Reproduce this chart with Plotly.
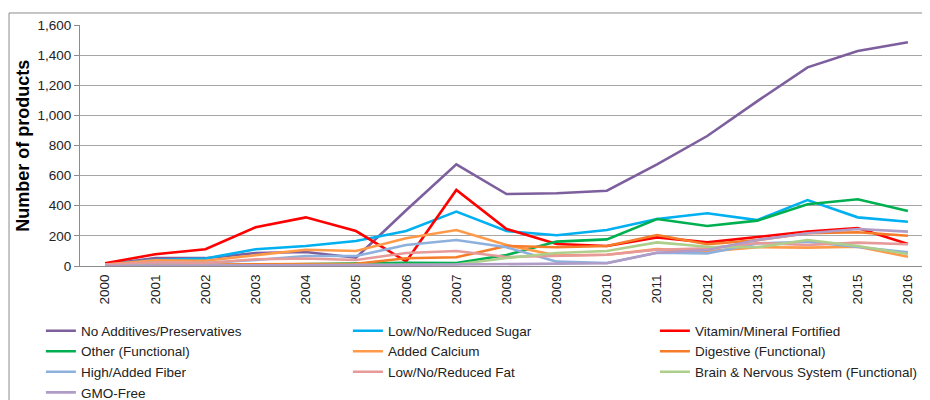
import plotly.graph_objects as go

years = [str(y) for y in range(2000, 2017)]

no_additives = [10, 52, 52, 86, 93, 55, 370, 675, 478, 483, 500, 675, 863, 1095, 1319, 1428, 1485]
low_sugar    = [10, 40, 50, 111, 133, 166, 232, 361, 232, 204, 239, 312, 350, 305, 438, 323, 294]
vitamin      = [18, 78, 111, 257, 323, 232, 30, 505, 246, 146, 133, 190, 157, 195, 228, 252, 146]
other_func   = [0, 5, 5, 8, 11, 15, 22, 20, 73, 162, 177, 312, 266, 301, 410, 443, 365]
added_calc   = [10, 38, 35, 73, 108, 100, 184, 239, 139, 70, 75, 112, 97, 125, 122, 128, 62]
digestive    = [5, 8, 8, 10, 12, 15, 51, 58, 133, 124, 133, 206, 144, 172, 217, 224, 201]
fiber        = [5, 20, 20, 40, 66, 66, 139, 173, 124, 29, 20, 88, 84, 150, 161, 128, 91]
low_fat      = [10, 25, 20, 45, 50, 40, 86, 100, 60, 66, 75, 108, 117, 153, 139, 155, 144]
brain        = [0, 2, 2, 3, 4, 5, 8, 10, 53, 86, 100, 157, 128, 124, 173, 133, 80]
gmo_free     = [0, 3, 3, 4, 5, 5, 8, 10, 12, 18, 18, 88, 106, 173, 217, 246, 228]

series = [
    ("No Additives/Preservatives", no_additives, "#7D5F9E"),
    ("Low/No/Reduced Sugar", low_sugar, "#00B0F0"),
    ("Vitamin/Mineral Fortified", vitamin, "#FF0000"),
    ("Other (Functional)", other_func, "#00B050"),
    ("Added Calcium", added_calc, "#FF9A48"),
    ("Digestive (Functional)", digestive, "#F57C28"),
    ("High/Added Fiber", fiber, "#8EB0DC"),
    ("Low/No/Reduced Fat", low_fat, "#E69A9A"),
    ("Brain & Nervous System (Functional)", brain, "#AECF8C"),
    ("GMO-Free", gmo_free, "#B09CC6"),
]

fig = go.Figure()
for name, vals, col in series:
    fig.add_trace(go.Scatter(x=years, y=vals, name=name, mode="lines",
                             line=dict(color=col, width=2.6)))

fig.update_layout(
    width=930, height=400,
    margin=dict(l=72, r=8, t=17, b=142, autoexpand=False),
    paper_bgcolor="white", plot_bgcolor="white",
    font=dict(family="Liberation Sans, Arial, sans-serif", size=13, color="#222"),
    showlegend=True,
    legend=dict(orientation="h", x=-0.046, y=-0.205, xanchor="left", yanchor="top",
                entrywidth=262, entrywidthmode="pixels",
                font=dict(size=13.5, color="#222"), tracegroupgap=0,
                bgcolor="rgba(0,0,0,0)"),
    shapes=[dict(type="rect", xref="paper", yref="paper",
                 x0=-0.0835, x1=1.2, y0=-1.0, y1=1.0498,
                 line=dict(color="#8C8C8C", width=1), fillcolor="rgba(0,0,0,0)",
                 layer="below")],
    annotations=[dict(text="<b>Number of products</b>", xref="paper", yref="paper",
                      x=-0.068, y=0.5, xanchor="center", yanchor="middle",
                      textangle=-90, showarrow=False,
                      font=dict(size=18, color="#000"))],
)

fig.update_xaxes(type="category", range=[-0.5, 16.44], tickangle=-90,
                 showgrid=False, showline=True, linecolor="#8C8C8C", linewidth=1,
                 ticks="", tickfont=dict(size=13.5, color="#222"), fixedrange=True,
                 ticklabelstandoff=2)
fig.update_yaxes(range=[0, 1600], dtick=200, tickformat=",",
                 showgrid=True, gridcolor="#A6A6A6", gridwidth=1,
                 showline=True, linecolor="#8C8C8C", linewidth=1,
                 ticks="outside", ticklen=5, tickcolor="#8C8C8C",
                 tickfont=dict(size=13.5, color="#222"), zeroline=False,
                 ticklabelstandoff=0)

fig.write_html("out.html")
